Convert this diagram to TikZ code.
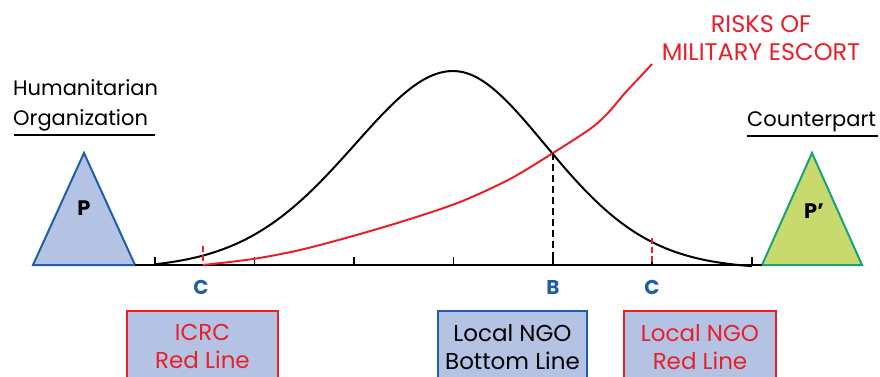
\documentclass[tikz,border=0pt]{standalone}
\usepackage{fontspec}
\setmainfont{Poppins}
\definecolor{rred}{HTML}{E8202A}
\definecolor{bblue}{HTML}{1F5FAA}
\definecolor{bfill}{HTML}{B4C3E4}
\definecolor{gfill}{HTML}{C8DA6E}
\definecolor{gline}{HTML}{1AA37A}
\begin{document}
\begin{tikzpicture}[x=1pt,y=-1pt,
  title/.style={font=\fontsize{21}{28}\selectfont, inner sep=0pt},
  risk/.style={font=\fontsize{24}{28}\selectfont, inner sep=0pt, text=rred},
  lbl/.style={font=\fontsize{20}{20}\selectfont\bfseries, text=bblue, inner sep=0pt},
  plbl/.style={font=\fontsize{21}{21}\selectfont\bfseries, inner sep=0pt},
  tri/.style={line width=2pt, line join=miter},
  axisline/.style={line width=2pt},
  tickmark/.style={line width=1.6pt},
  curve/.style={line width=2pt},
  box/.style={fill=bfill, line width=1.6pt, align=center, minimum width=151pt,
    minimum height=72pt, anchor=north, inner sep=0pt,
    font=\fontsize{23}{28}\selectfont}]
\useasboundingbox (0,0) rectangle (880,377);
\clip (0,0) rectangle (880,377);
\fill[white] (0,0) rectangle (880,377);

% headings
\node[title, anchor=base west] (hum1) at (13,96) {Humanitarian};
\node[title, anchor=base west] (hum2) at (13,125) {Organization};
\draw[line width=1.6pt] (14,135) -- (155,135);
\node[title, anchor=base west] (cp) at (747,126) {Counterpart};
\draw[line width=1.6pt] (747,136) -- (878,136);
\node[risk, anchor=base] (risk1) at (761,33) {RISKS OF};
\node[risk, anchor=base] (risk2) at (761,61) {MILITARY ESCORT};

% triangles
\coordinate (La) at (84,153);
\coordinate (Ll) at (33,265);
\coordinate (Lr) at (135,265);
\coordinate (Ra) at (812,153);
\coordinate (Rl) at (762,265);
\coordinate (Rr) at (862,265);
\draw[tri, draw=bblue, fill=bfill] (La) -- (Lr) -- (Ll) -- cycle;
\draw[tri, draw=gline, fill=gfill] (Ra) -- (Rr) -- (Rl) -- cycle;
\node[plbl] (P) at (84,208) {P};
\node[plbl] (Pp) at (814,211) {P’};

% axis
\draw[axisline] (Lr) -- (Rl);
\foreach \t in {155,254.5,354,453.5,553,652,752}
  \draw[tickmark] (\t,257) -- (\t,265);

% bell curve
\coordinate (Bx) at (553,153);
\coordinate (Bax) at (553,265);
\draw[curve, line join=round]
  plot[domain=155:453, samples=100] (\x, {265-198*(exp(-(exp(0.925*ln(((453-\x)/100)^2+0.16))-0.1836)/2.002)-0.02)})
  -- plot[domain=453:752, samples=100] (\x, {265-198*(exp(-(exp(0.925*ln(((\x-453)/100)^2+0.16))-0.1836)/1.766)-0.02)});

% risk curve
\draw[curve, rred] plot[smooth, tension=0.5] coordinates {(203,265) (253,259) (300,250) (353,236) (407,220) (460,202) (510,179) (553,153) (590,129) (607,114) (625,93) (640,77) (652,64)};

% dashed guides
\draw[curve, dash pattern=on 7pt off 4pt] (Bx) -- (Bax);
\draw[line width=1.5pt, rred, dash pattern=on 6pt off 3pt] (203,246) -- (203,265);
\draw[line width=1.5pt, rred, dash pattern=on 6pt off 3pt] (652,238) -- (652,265);

% letters
\node[lbl] (c1) at (201,287) {C};
\node[lbl] (b) at (553,287) {B};
\node[lbl] (c2) at (652,287) {C};

% boxes
\node[box, draw=rred, text=rred] (icrc) at (202.5,310) {ICRC\\Red Line};
\node[box, draw=bblue, text=black, minimum width=149pt] (ngob) at (512.5,310) {Local NGO\\Bottom Line};
\node[box, draw=rred, text=rred, minimum width=152pt] (ngor) at (700,310) {Local NGO\\Red Line};
\end{tikzpicture}
\end{document}
